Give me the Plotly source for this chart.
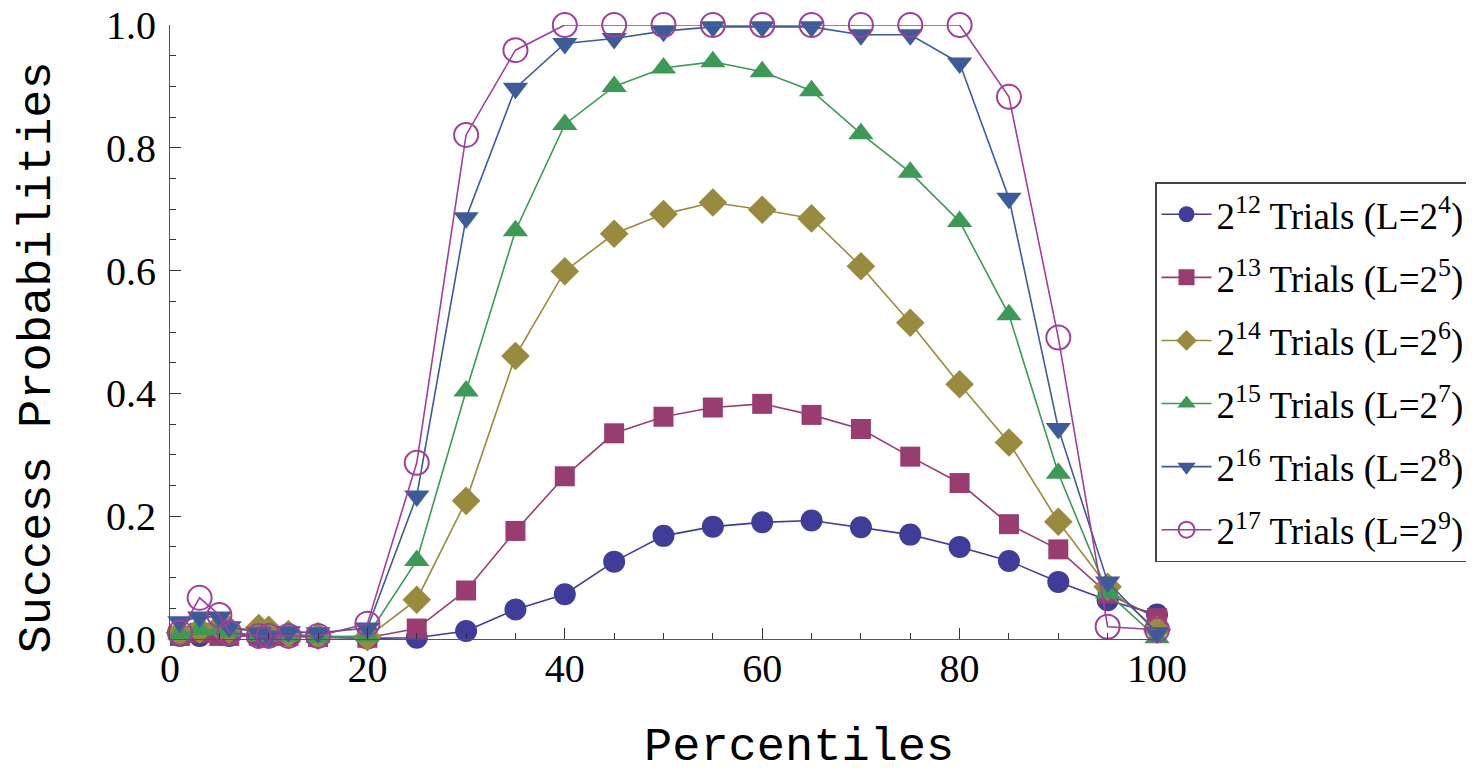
import plotly.graph_objects as go

percentiles = [1, 3, 5, 6, 9, 10, 12, 15, 20, 25, 30, 35, 40, 45, 50, 55, 60, 65, 70, 75, 80, 85, 90, 95, 100]

trials_2_12 = [0.005, 0.005, 0.01, 0.005, 0.005, 0.005, 0.005, 0.003, 0.001, 0.002, 0.013, 0.048, 0.073, 0.126, 0.168, 0.183, 0.19, 0.193, 0.182, 0.17, 0.15, 0.127, 0.093, 0.063, 0.04]
trials_2_13 = [0.005, 0.01, 0.005, 0.005, 0.005, 0.005, 0.005, 0.003, 0.002, 0.017, 0.079, 0.176, 0.265, 0.335, 0.362, 0.377, 0.383, 0.365, 0.342, 0.297, 0.254, 0.187, 0.146, 0.074, 0.034]
trials_2_14 = [0.01, 0.015, 0.02, 0.015, 0.018, 0.015, 0.008, 0.005, 0.003, 0.064, 0.225, 0.461, 0.599, 0.66, 0.692, 0.711, 0.699, 0.685, 0.607, 0.515, 0.415, 0.32, 0.191, 0.085, 0.015]
trials_2_15 = [0.008, 0.015, 0.015, 0.012, 0.005, 0.005, 0.005, 0.003, 0.005, 0.128, 0.404, 0.665, 0.838, 0.9, 0.93, 0.94, 0.924, 0.893, 0.823, 0.76, 0.68, 0.528, 0.27, 0.075, 0.002]
trials_2_16 = [0.028, 0.036, 0.036, 0.02, 0.01, 0.005, 0.012, 0.01, 0.018, 0.233, 0.686, 0.897, 0.97, 0.978, 0.99, 0.997, 0.997, 0.997, 0.984, 0.984, 0.938, 0.718, 0.343, 0.093, 0.01]
trials_2_17 = [0.01, 0.067, 0.039, 0.01, 0.005, 0.005, 0.005, 0.005, 0.025, 0.287, 0.821, 0.959, 1.0, 1.0, 1.0, 1.0, 1.0, 1.0, 1.0, 1.0, 1.0, 0.883, 0.491, 0.02, 0.015]

series_names = [
    "2<sup>12</sup> Trials (L=2<sup>4</sup>)",
    "2<sup>13</sup> Trials (L=2<sup>5</sup>)",
    "2<sup>14</sup> Trials (L=2<sup>6</sup>)",
    "2<sup>15</sup> Trials (L=2<sup>7</sup>)",
    "2<sup>16</sup> Trials (L=2<sup>8</sup>)",
    "2<sup>17</sup> Trials (L=2<sup>9</sup>)",
]
series_values = [trials_2_12, trials_2_13, trials_2_14, trials_2_15, trials_2_16, trials_2_17]
colors = ["#3f3d99", "#993d71", "#998b3d", "#3d9956", "#3d5b99", "#a03f98"]
symbols = ["circle", "square", "diamond", "triangle-up", "triangle-down", "circle-open"]
sizes = [22, 20, 22, 22, 22, 24]

fig = go.Figure()
for i, (name, vals) in enumerate(zip(series_names, series_values)):
    marker = dict(symbol=symbols[i], size=sizes[i], color=colors[i])
    if symbols[i] == "circle-open":
        marker["line"] = dict(color=colors[i], width=2)
    else:
        marker["line"] = dict(width=0)
    fig.add_trace(go.Scatter(
        x=percentiles, y=vals, mode="lines+markers", name=name,
        line=dict(color=colors[i], width=1.6),
        marker=marker, cliponaxis=False, legendgroup=f"g{i}",
    ))

tickfont = dict(family="Liberation Serif", size=40, color="black")
fig.update_layout(
    width=1474, height=770,
    margin=dict(l=162, r=325, t=17, b=139, autoexpand=False),
    paper_bgcolor="white", plot_bgcolor="white",
    showlegend=True,
    legend=dict(
        x=0.998, y=0.744, xanchor="left", yanchor="top",
        font=dict(family="Liberation Serif", size=37, color="black"),
        bordercolor="#444", borderwidth=1.5, bgcolor="white",
        tracegroupgap=12, itemwidth=50,
    ),
    xaxis=dict(
        range=[0, 100], showgrid=False, zeroline=False, automargin=False,
        showline=True, linecolor="#555", linewidth=1.2,
        ticks="inside", ticklen=11, tickwidth=1.2, tickcolor="#333",
        tickvals=[0, 20, 40, 60, 80, 100], tickfont=tickfont,
        ticklabelstandoff=-6, ticklabeloverflow="allow",
        minor=dict(dtick=5, ticks="inside", ticklen=6, tickwidth=1, tickcolor="#333", showgrid=False),
    ),
    yaxis=dict(
        range=[0, 1], showgrid=False, zeroline=False, automargin=False,
        showline=True, linecolor="#555", linewidth=1.2,
        ticks="inside", ticklen=11, tickwidth=1.2, tickcolor="#333",
        tickvals=[0, 0.2, 0.4, 0.6, 0.8, 1.0], ticktext=["0.0", "0.2", "0.4", "0.6", "0.8", "1.0"],
        tickfont=tickfont, ticklabelstandoff=5, ticklabeloverflow="allow",
        minor=dict(dtick=0.05, ticks="inside", ticklen=6, tickwidth=1, tickcolor="#333", showgrid=False),
    ),
    annotations=[
        dict(text="Percentiles", xref="paper", yref="paper", x=0.637, y=-0.1775,
             xanchor="center", yanchor="middle",
             showarrow=False, font=dict(family="Liberation Mono", size=47, color="black")),
        dict(text="Success Probabilities", xref="paper", yref="paper", x=-0.134, y=0.458,
             xanchor="center", yanchor="middle",
             textangle=-90, showarrow=False,
             font=dict(family="Liberation Mono", size=47, color="black")),
    ],
)

fig.write_html("out.html")
